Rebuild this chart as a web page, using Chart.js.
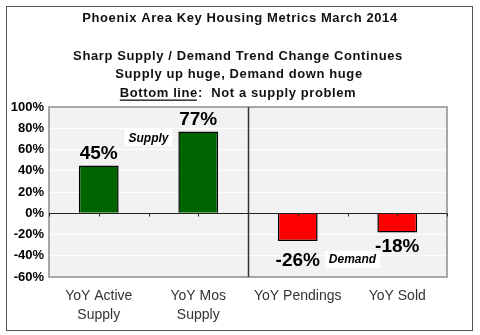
<!DOCTYPE html>
<html><head><meta charset="utf-8">
<script src="https://cdn.jsdelivr.net/npm/chart.js@4"></script>
<style>html,body{margin:0;padding:0;background:#fff}#wrap{width:480px;height:335px;position:relative}</style>
</head><body><div id="wrap"><canvas id="c" width="480" height="335"></canvas></div>
<script>
const categories = [["YoY Active","Supply"],["YoY Mos","Supply"],["YoY Pendings"],["YoY Sold"]];
const values = [45, 77, -26, -18];
const barColors = ["#006400","#006400","#ff0000","#ff0000"];
const valueLabels = ["45%","77%","-26%","-18%"];
const yTicks = {min:-60, max:100, step:20};
const titleText = "Phoenix Area Key Housing Metrics March 2014";
const subLines = ["Sharp Supply / Demand Trend Change Continues","Supply up huge, Demand down huge"];
const groupNotes = [{text:"Supply", cat:0.5, value:71.5},{text:"Demand", cat:2.55, value:-43}];

const FONT = "'Liberation Sans', Arial, sans-serif";

const deco = {
  id:'deco',
  beforeDraw(chart){
    const {ctx, chartArea:a} = chart;
    ctx.save();
    ctx.fillStyle='#fff'; ctx.fillRect(0,0,chart.width,chart.height);
    ctx.fillStyle='#f2f2f2'; ctx.fillRect(a.left,a.top,a.right-a.left,a.bottom-a.top);
    ctx.restore();
  },
  afterDatasetsDraw(chart){
    const {ctx, chartArea:a, scales:{x,y}} = chart;
    ctx.save();
    ctx.strokeStyle='#8c8c8c'; ctx.lineWidth=1.5;
    ctx.strokeRect(a.left,a.top,a.right-a.left,a.bottom-a.top);
    const y0 = Math.round(y.getPixelForValue(0))+0.5;
    ctx.strokeStyle='#222'; ctx.lineWidth=1;
    ctx.beginPath(); ctx.moveTo(a.left,y0); ctx.lineTo(a.right,y0); ctx.stroke();
    for(let i=0;i<=categories.length*2;i++){
      const px = Math.round(x.getPixelForValue(i/2-0.5))+0.5;
      ctx.beginPath(); ctx.moveTo(px,y0); ctx.lineTo(px,y0+3); ctx.stroke();
    }
    const dx = Math.round(x.getPixelForValue(1.5))+0.5;
    ctx.strokeStyle='#333'; ctx.lineWidth=1.5;
    ctx.beginPath(); ctx.moveTo(dx,a.top); ctx.lineTo(dx,a.bottom); ctx.stroke();
    ctx.fillStyle='#000'; ctx.font="bold 19px "+FONT; ctx.textAlign='center';
    values.forEach((v,i)=>{
      const px = x.getPixelForValue(i), py = y.getPixelForValue(v);
      if(v>=0){ ctx.textBaseline='alphabetic'; ctx.fillText(valueLabels[i],px,py-6); }
      else { ctx.textBaseline='top'; ctx.fillText(valueLabels[i],px,py+(v<-20?10:5)); }
    });
    ctx.font="italic bold 12px "+FONT; ctx.textBaseline='middle';
    groupNotes.forEach(n=>{
      const px=x.getPixelForValue(n.cat), py=y.getPixelForValue(n.value);
      const w=ctx.measureText(n.text).width+8;
      ctx.fillStyle='#fff'; ctx.fillRect(px-w/2,py-8,w,17);
      ctx.fillStyle='#000'; ctx.fillText(n.text,px,py+1);
    });
    ctx.textAlign='center'; ctx.textBaseline='middle'; ctx.fillStyle='#111';
    ctx.font="bold 13px "+FONT;
    ctx.letterSpacing='0.6px';
    ctx.fillText(titleText,240,18);
    ctx.fillText(subLines[0],238,56);
    ctx.fillText(subLines[1],239,74);
    const p1="Bottom line", p2=":  Not a supply problem";
    const w1=ctx.measureText(p1).width, w2=ctx.measureText(p2).width;
    const sx=238-(w1+w2)/2;
    ctx.textAlign='left';
    ctx.fillText(p1,sx,93); ctx.fillText(p2,sx+w1,93);
    ctx.fillRect(sx,99.5,w1-1,1.3);
    ctx.letterSpacing='0px';
    ctx.strokeStyle='#555'; ctx.lineWidth=1;
    ctx.strokeRect(6.5,6.5,466,324);
    ctx.restore();
  }
};

new Chart(document.getElementById('c'),{
  type:'bar',
  data:{labels:categories,datasets:[{data:values,backgroundColor:barColors,borderColor:'#000',borderWidth:1.5,
    categoryPercentage:1,barPercentage:0.4}]},
  options:{
    responsive:false,animation:false,devicePixelRatio:1,
    layout:{padding:{left:6,top:107,right:33,bottom:0}},
    plugins:{legend:{display:false},tooltip:{enabled:false}},
    scales:{
      x:{grid:{display:false},border:{display:false},
        ticks:{color:'#333',font:{family:FONT,size:14,lineHeight:1.36},padding:2,maxRotation:0},
        afterFit(s){s.height=58;}},
      y:{min:yTicks.min,max:yTicks.max,grid:{color:'#ffffff',lineWidth:1,drawTicks:false},border:{display:false},
        ticks:{stepSize:yTicks.step,color:'#000',font:{family:FONT,size:13,weight:'bold'},padding:5,
          callback:v=>v+'%'},
        afterFit(s){s.width=43;}}
    }
  },
  plugins:[deco]
});
</script></body></html>
